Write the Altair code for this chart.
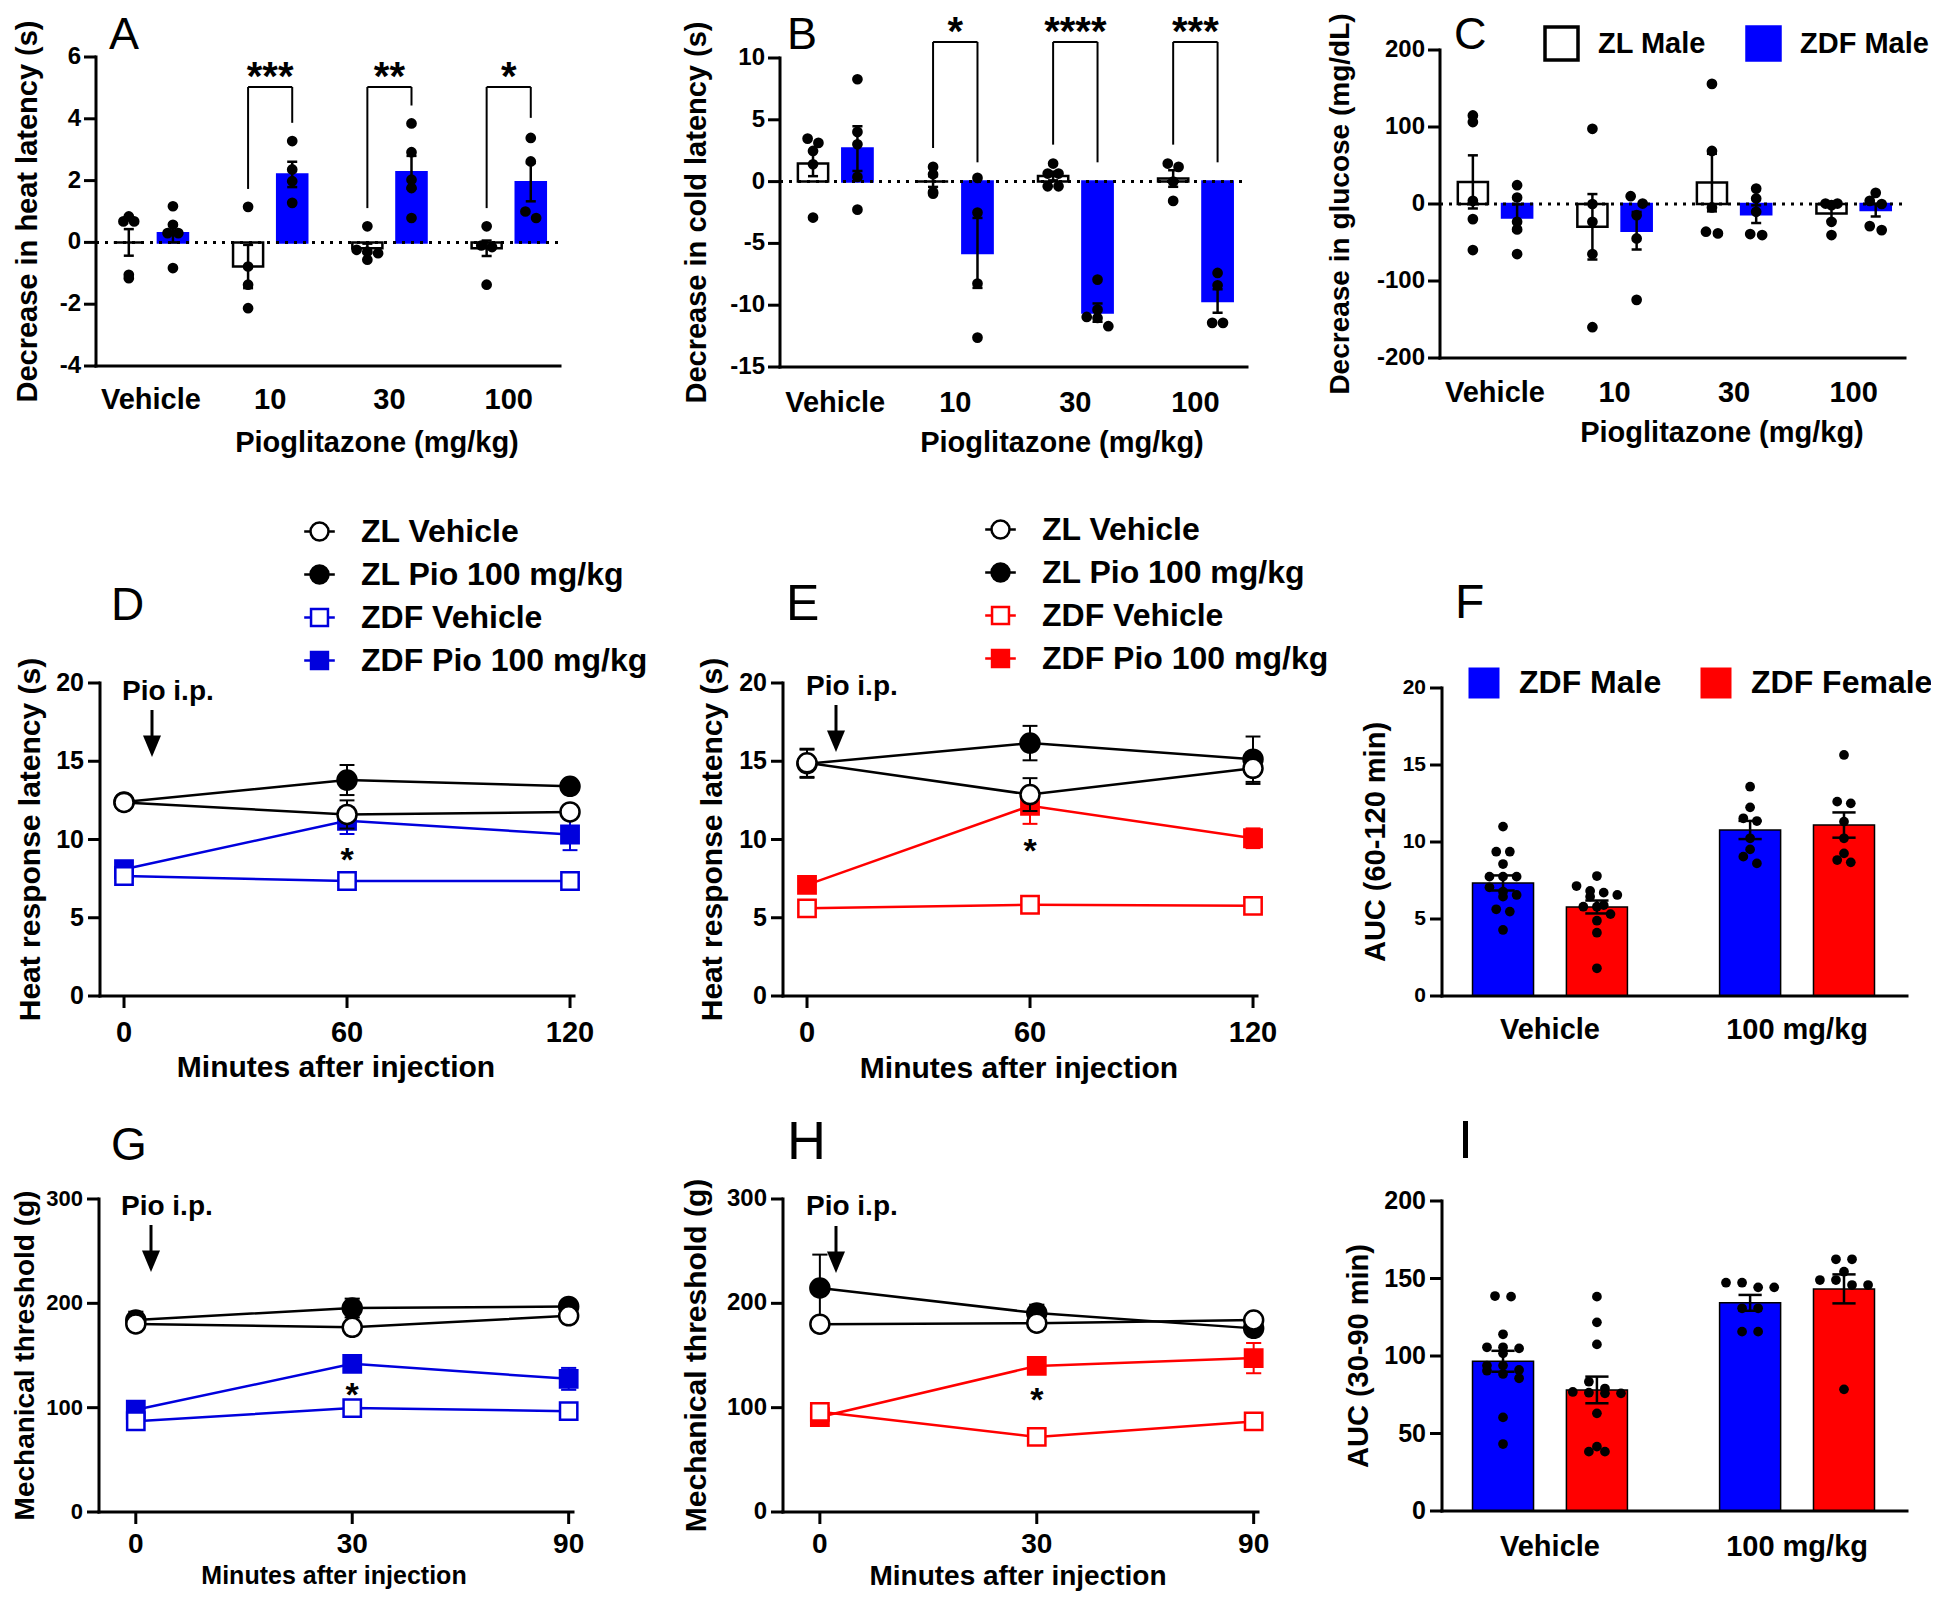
import altair as alt
import pandas as pd

FONT = "Liberation Sans"
BLUE = "#0000ff"
LBLUE = "#0000dd"
RED = "#ff0000"
WIDTH, HEIGHT = 1923, 1585

# ======================= DATA =======================
# --- A: decrease in heat latency (s)
doses = ["Vehicle", "10", "30", "100"]
strains = ["ZL Male", "ZDF Male"]
heat_zl_mean = [0.00, -0.78, -0.19, -0.19]
heat_zl_sem = [0.43, 0.70, 0.15, 0.25]
heat_zdf_mean = [0.30, 2.20, 2.27, 1.95]
heat_zdf_sem = [0.30, 0.41, 0.53, 0.62]
heat_zl_pts = [[0.84, 0.68, 0.68, -1.16, -1.05], [1.15, -0.78, -1.37, -2.13],
               [0.52, -0.56, -0.24, -0.35, -0.30], [0.52, -0.10, -0.15, -1.37]]
heat_zdf_pts = [[1.17, 0.30, 0.57, -0.83, 0.30], [3.28, 2.36, 1.98, 1.28],
                [3.85, 2.92, 2.03, 1.76, 0.79], [3.38, 2.62, 0.79, 1.00]]
heat_sig_dose = ["10", "30", "100"]
heat_sig_left = [1.73, 1.11, 1.11]
heat_sig_right = [3.87, 4.43, 4.03]
heat_sig_top = [5.03, 5.03, 5.03]
heat_sig_star_y = [5.68, 5.68, 5.68]
heat_sig_labels = ["***", "**", "*"]
heat_yticks = [-4, -2, 0, 2, 4, 6]

# --- B: decrease in cold latency (s)
cold_zl_mean = [1.46, 0.00, 0.45, 0.25]
cold_zl_sem = [1.02, 0.43, 0.35, 0.67]
cold_zdf_mean = [2.67, -5.77, -10.60, -9.66]
cold_zdf_sem = [1.81, 2.83, 0.74, 0.95]
cold_zl_pts = [[3.48, 3.13, 2.48, 1.40, -2.91], [1.19, 0.59, -0.97, -0.84],
               [1.46, 0.65, 0.65, -0.38, -0.38], [1.19, 1.46, 0.00, -1.56]]
cold_zdf_pts = [[8.28, 4.02, 3.02, 0.38, -2.27], [0.30, -2.51, -8.25, -12.62],
                [-7.93, -10.95, -10.36, -11.70, -11.03], [-7.39, -8.39, -11.43, -11.43]]
cold_sig_dose = ["10", "30", "100"]
cold_sig_left = [2.72, 2.99, 2.99]
cold_sig_right = [1.56, 1.56, 1.56]
cold_sig_top = [11.3, 11.3, 11.3]
cold_sig_star_y = [12.9, 12.9, 12.9]
cold_sig_labels = ["*", "****", "***"]
cold_yticks = [-15, -10, -5, 0, 5, 10]

# --- C: decrease in glucose (mg/dL)
glu_zl_mean = [28.7, -29.6, 27.8, -12.3]
glu_zl_sem = [34.5, 42.5, 37.4, 9.7]
glu_zdf_mean = [-17.5, -34.7, -13.2, -7.9]
glu_zdf_sem = [17.0, 24.4, 11.5, 8.3]
glu_zl_pts = [[115.0, 106.4, 4.1, -19.6, -59.8], [97.7, 0.0, -23.1, -65.0, -160.0],
              [156.0, 68.9, -4.5, -38.2, -36.0], [0.6, 0.6, -1.5, -23.1, -40.3]]
glu_zdf_pts = [[24.4, 8.4, -23.1, -33.0, -65.0], [10.1, 0.6, -14.5, -44.7, -124.5],
               [20.0, 7.1, -10.1, -40.3, -39.0], [14.5, 4.1, 0.0, -33.9, -28.7]]
glu_yticks = [-200, -100, 0, 100, 200]

# --- D / E: heat response latency (s) time course
line_series = ["ZL Vehicle", "ZL Pio 100 mg/kg", "ZDF Vehicle", "ZDF Pio 100 mg/kg"]
heat_minutes = [0, 60, 120]
heat_latency_yticks = [0, 5, 10, 15, 20]
D_zl_veh = [12.37, 11.60, 11.76]
D_zl_veh_err = [0.35, 0.90, 0.30]
D_zl_pio = [12.40, 13.80, 13.40]
D_zl_pio_err = [0.30, 0.96, 0.30]
D_zdf_veh = [7.67, 7.35, 7.35]
D_zdf_veh_err = [0.30, 0.20, 0.20]
D_zdf_pio = [8.10, 11.20, 10.32]
D_zdf_pio_err = [0.30, 0.85, 1.00]
D_star_time = [60]
D_star_y = [9.2]

E_zl_veh = [14.90, 12.87, 14.55]
E_zl_veh_err = [0.90, 1.05, 1.00]
E_zl_pio = [14.84, 16.16, 15.13]
E_zl_pio_err = [0.90, 1.10, 1.45]
E_zdf_veh = [5.60, 5.83, 5.76]
E_zdf_veh_err = [0.20, 0.20, 0.20]
E_zdf_pio = [7.10, 12.15, 10.08]
E_zdf_pio_err = [0.20, 1.15, 0.63]
E_star_time = [60]
E_star_y = [9.78]

# --- F: AUC (60-120 min)
auc_groups = ["Vehicle", "100 mg/kg"]
auc_sexes = ["ZDF Male", "ZDF Female"]
F_yticks = [0, 5, 10, 15, 20]
F_male_mean = [7.34, 10.78]
F_male_sem = [0.49, 0.59]
F_female_mean = [5.78, 11.10]
F_female_sem = [0.42, 0.82]
F_male_pts = [[11.0, 9.37, 9.37, 8.57, 7.75, 7.75, 7.75, 7.06, 6.77, 6.56, 6.45, 5.63, 5.48, 4.29],
              [13.59, 12.25, 11.54, 11.36, 10.24, 9.52, 9.05, 8.61]]
F_female_pts = [[7.79, 7.14, 6.82, 6.71, 6.56, 6.45, 5.90, 5.80, 5.80, 5.32, 4.89, 4.11, 1.80],
                [15.65, 12.62, 12.51, 11.32, 10.24, 9.26, 8.83, 8.68]]

# --- G / H: mechanical threshold (g)
mech_minutes = ["0", "30", "90"]
mech_yticks = [0, 100, 200, 300]
G_zl_veh = [180.3, 177.0, 188.0]
G_zl_veh_err = [3.0, 3.0, 6.0]
G_zl_pio = [184.0, 195.5, 197.0]
G_zl_pio_err = [8.0, 9.0, 3.0]
G_zdf_veh = [87.0, 99.6, 96.6]
G_zdf_veh_err = [3.0, 4.0, 3.0]
G_zdf_pio = [98.0, 142.0, 127.6]
G_zdf_pio_err = [3.0, 4.0, 10.5]
G_star_time = ["30"]
G_star_y = [120.0]

H_zl_veh = [180.0, 181.0, 184.0]
H_zl_veh_err = [3.0, 3.0, 3.0]
H_zl_pio = [214.7, 190.7, 176.0]
H_zl_pio_err = [32.0, 8.0, 4.0]
H_zdf_veh = [96.0, 72.0, 86.8]
H_zdf_veh_err = [3.0, 3.0, 4.0]
H_zdf_pio = [91.0, 140.0, 147.5]
H_zdf_pio_err = [3.0, 5.0, 14.5]
H_star_time = ["30"]
H_star_y = [115.0]

# --- I: AUC (30-90 min)
I_yticks = [0, 50, 100, 150, 200]
I_male_mean = [96.6, 134.3]
I_male_sem = [6.75, 5.1]
I_female_mean = [78.1, 143.3]
I_female_sem = [8.6, 9.35]
I_male_pts = [[138.3, 138.7, 114.0, 105.6, 104.9, 105.6, 101.7, 93.8, 93.8, 91.0, 90.5, 88.4, 85.6, 60.4, 43.2],
              [147.3, 147.3, 144.3, 144.3, 130.8, 130.8, 115.7, 115.7]]
I_female_pts = [[138.3, 121.7, 107.5, 83.4, 79.0, 76.8, 76.3, 75.9, 75.9, 63.0, 41.5, 38.3, 38.3],
                [162.4, 162.4, 154.4, 149.0, 149.0, 145.8, 145.8, 78.5]]

# ======================= LAYOUT (plot boxes: left, top, right, bottom) =======================
BOX_A = (88, 49, 552, 358)
BOX_B = (772, 50, 1239, 359)
BOX_C = (1432, 42, 1897, 350)
BOX_D = (92, 675, 566, 988)
BOX_E = (775, 675, 1249, 988)
BOX_F = (1434, 680, 1899, 988)
BOX_G = (91, 1191, 565, 1504)
BOX_H = (775, 1191, 1250, 1504)
BOX_I = (1434, 1193, 1899, 1503)


def one_row():
    return pd.DataFrame({"k": [0]})


def text_at(txt, x, y, size, weight="bold", align="left", baseline="alphabetic", angle=0):
    kw = dict(font=FONT, fontSize=size, fontWeight=weight, align=align, baseline=baseline,
              color="black")
    if angle:
        kw["angle"] = angle
    return alt.Chart(pd.DataFrame({"t": [txt]})).mark_text(**kw).encode(
        x=alt.value(x), y=alt.value(y), text="t:N")


def axes_layers(box, xs, ys, xdom, ydom, ax):
    """Axis lines, ticks, tick labels and titles drawn through the panel's scales."""
    L, T, R, B = box
    out = []
    one = one_row()
    out.append(alt.Chart(one).mark_rule(color="black", strokeWidth=3, strokeCap="square").encode(
        x=alt.XDatum(xdom[0], scale=xs, axis=None),
        y=alt.YDatum(ydom[0], scale=ys, axis=None), y2=alt.Y2Datum(ydom[1])))
    out.append(alt.Chart(one).mark_rule(color="black", strokeWidth=3, strokeCap="square").encode(
        x=alt.XDatum(xdom[0], scale=xs, axis=None), x2=alt.X2Datum(xdom[1]),
        y=alt.YDatum(ydom[0], scale=ys, axis=None)))
    ydf = pd.DataFrame({"v": ax["yvals"], "lab": [str(v) for v in ax["yvals"]]})
    ytick = ax.get("ytick", 12)
    out.append(alt.Chart(ydf).mark_rule(color="black", strokeWidth=3).encode(
        x=alt.value(L - ytick), x2=alt.value(L), y=alt.Y("v:Q", scale=ys, axis=None)))
    out.append(alt.Chart(ydf).mark_text(font=FONT, fontSize=ax["ylab_fs"], fontWeight="bold",
                                        align="right", baseline="middle", color="black").encode(
        x=alt.value(L - ytick - ax.get("ypad", 4)), y=alt.Y("v:Q", scale=ys, axis=None), text="lab:N"))
    xdf = pd.DataFrame({"v": ax["xvals"], "lab": ax["xlabels"]})
    xtick = ax.get("xtick", 0)
    if xtick > 0:
        out.append(alt.Chart(xdf).mark_rule(color="black", strokeWidth=3).encode(
            x=alt.X("v:Q", scale=xs, axis=None), y=alt.value(B), y2=alt.value(B + xtick)))
    out.append(alt.Chart(xdf).mark_text(font=FONT, fontSize=ax["xlab_fs"], fontWeight="bold",
                                        align="center", baseline="middle", color="black").encode(
        x=alt.X("v:Q", scale=xs, axis=None), y=alt.value(B + ax["xlab_off"]), text="lab:N"))
    out.append(text_at(ax["ytitle"], ax["ytitle_cx"], (T + B) / 2, ax["ytitle_fs"],
                       align="center", baseline="middle", angle=270))
    if ax.get("xtitle"):
        out.append(text_at(ax["xtitle"], ax["xtitle_cx"], ax["xtitle_cy"], ax["xtitle_fs"],
                           align="center", baseline="middle"))
    return out


ARROW_HEAD = "M-1,-1.2L1,-1.2L0,1.2Z"


def arrow(x, y0, y1):
    shaft = alt.Chart(one_row()).mark_rule(color="black", strokeWidth=3).encode(
        x=alt.value(x), y=alt.value(y0), y2=alt.value(y1 - 14))
    head = alt.Chart(one_row()).mark_point(
        shape=ARROW_HEAD, filled=True, color="black", size=324, opacity=1).encode(
        x=alt.value(x), y=alt.value(y1 - 10.8))
    return [shaft, head]


def bar_panel(box, cats, groups, means, sems, pts, *, xdom, ydom, off, hw, cap, binw, dx,
              dot, fills, strokes, bar_sw, ax, legend=None, zero=False, sig=None):
    L, T, R, B = box
    xs = alt.Scale(domain=list(xdom), range=[L, R], nice=False, zero=False)
    ys = alt.Scale(domain=list(ydom), range=[B, T], nice=False, zero=False)
    rows = []
    for g, ml, el in zip(groups, means, sems):
        for i, c in enumerate(cats):
            rows.append({"cat": c, "idx": i, "grp": g, "m": ml[i], "e": el[i]})
    bdf = pd.DataFrame(rows)
    prow = []
    for g, pl in zip(groups, pts):
        for i, c in enumerate(cats):
            for v in pl[i]:
                prow.append({"cat": c, "idx": i, "grp": g, "v": v})
    pdf = pd.DataFrame(prow)
    xc = f"datum.idx + (datum.grp == '{groups[0]}' ? {-off} : {off})"
    base = alt.Chart(bdf).transform_calculate(xc=xc).transform_calculate(
        xl=f"datum.xc - {hw}", xr=f"datum.xc + {hw}", cl=f"datum.xc - {cap}",
        cr=f"datum.xc + {cap}", lo="datum.m - datum.e", hi="datum.m + datum.e")
    fill_enc = alt.Fill("grp:N", scale=alt.Scale(domain=groups, range=fills), legend=legend)
    stroke_enc = alt.Stroke("grp:N", scale=alt.Scale(domain=groups, range=strokes), legend=legend)
    layers = []
    layers.append(base.mark_bar(strokeWidth=bar_sw, opacity=1).encode(
        x=alt.X("xl:Q", scale=xs, axis=None), x2="xr:Q",
        y=alt.Y("m:Q", scale=ys, axis=None), y2=alt.datum(0),
        fill=fill_enc, stroke=stroke_enc))
    layers += axes_layers(box, xs, ys, xdom, ydom, ax)
    if zero:
        layers.append(alt.Chart(pd.DataFrame({"z": [0]})).mark_rule(
            color="black", strokeWidth=3, strokeDash=[3, 6]).encode(
            x=alt.XDatum(xdom[0], scale=xs, axis=None), x2=alt.X2Datum(xdom[1]),
            y=alt.Y("z:Q", scale=ys, axis=None)))
    layers.append(base.mark_rule(color="black", strokeWidth=2.5).encode(
        x=alt.X("xc:Q", scale=xs, axis=None), y=alt.Y("lo:Q", scale=ys, axis=None), y2="hi:Q"))
    for end in ("lo", "hi"):
        layers.append(base.mark_rule(color="black", strokeWidth=2.5).encode(
            x=alt.X("cl:Q", scale=xs, axis=None), x2="cr:Q",
            y=alt.Y(f"{end}:Q", scale=ys, axis=None)))
    layers.append(alt.Chart(pdf).transform_calculate(
        xc=xc, b=f"floor(datum.v / {binw})").transform_window(
        rk="row_number()", groupby=["idx", "grp", "b"],
        sort=[alt.SortField("v", order="descending")]).transform_joinaggregate(
        n="count()", groupby=["idx", "grp", "b"]).transform_calculate(
        xp=f"datum.xc + (datum.rk - 1 - (datum.n - 1) / 2) * {dx}").mark_circle(
        size=dot, color="black", opacity=1).encode(
        x=alt.X("xp:Q", scale=xs, axis=None), y=alt.Y("v:Q", scale=ys, axis=None)))
    if sig is not None:
        sdose, sl, sr, st, sy, slab = sig
        sdf = pd.DataFrame({"idx": [cats.index(d) for d in sdose], "yl": sl, "yr": sr,
                            "yt": st, "ys": sy, "lab": slab})
        sb = alt.Chart(sdf).transform_calculate(
            xl=f"datum.idx - {off}", xr=f"datum.idx + {off}")
        layers.append(sb.mark_rule(color="black", strokeWidth=2).encode(
            x=alt.X("xl:Q", scale=xs, axis=None), y=alt.Y("yl:Q", scale=ys, axis=None), y2="yt:Q"))
        layers.append(sb.mark_rule(color="black", strokeWidth=2).encode(
            x=alt.X("xr:Q", scale=xs, axis=None), y=alt.Y("yr:Q", scale=ys, axis=None), y2="yt:Q"))
        layers.append(sb.mark_rule(color="black", strokeWidth=2).encode(
            x=alt.X("xl:Q", scale=xs, axis=None), x2="xr:Q", y=alt.Y("yt:Q", scale=ys, axis=None)))
        layers.append(sb.mark_text(font=FONT, fontSize=40, fontWeight="bold", baseline="alphabetic",
                                   dy=23, color="black").encode(
            x=alt.X("idx:Q", scale=xs, axis=None), y=alt.Y("ys:Q", scale=ys, axis=None), text="lab:N"))
    return layers


LEG_CIRCLE = "M-0.85,0L-0.5,0M0.5,0L0.85,0M0.5,0A0.5,0.5,0,1,1,-0.5,0A0.5,0.5,0,1,1,0.5,0Z"
LEG_SQUARE = "M-0.85,0L-0.47,0M0.47,0L0.85,0M-0.47,-0.47L0.47,-0.47L0.47,0.47L-0.47,0.47Z"


def line_panel(box, xvals, series, *, xdom, ydom, cap, styles, ax, star, legend_xy=None):
    L, T, R, B = box
    xs = alt.Scale(domain=list(xdom), range=[L, R], nice=False, zero=False)
    ys = alt.Scale(domain=list(ydom), range=[B, T], nice=False, zero=False)
    layers = axes_layers(box, xs, ys, xdom, ydom, ax)
    for si in (3, 2, 1, 0):
        means, errs = series[si]
        shape, fill, stroke, size = styles[si]
        df = pd.DataFrame({"t": xvals, "m": means, "e": errs})
        base = alt.Chart(df).transform_calculate(
            lo="datum.m - datum.e", hi="datum.m + datum.e",
            cl=f"datum.t - {cap}", cr=f"datum.t + {cap}")
        layers.append(base.mark_line(color=stroke, strokeWidth=2.5).encode(
            x=alt.X("t:Q", scale=xs, axis=None), y=alt.Y("m:Q", scale=ys, axis=None)))
        layers.append(base.mark_rule(color=stroke, strokeWidth=2).encode(
            x=alt.X("t:Q", scale=xs, axis=None), y=alt.Y("lo:Q", scale=ys, axis=None), y2="hi:Q"))
        for end in ("lo", "hi"):
            layers.append(base.mark_rule(color=stroke, strokeWidth=2).encode(
                x=alt.X("cl:Q", scale=xs, axis=None), x2="cr:Q",
                y=alt.Y(f"{end}:Q", scale=ys, axis=None)))
        layers.append(base.mark_point(shape=shape, filled=True, fill=fill, stroke=stroke,
                                      strokeWidth=2.5, size=size, opacity=1).encode(
            x=alt.X("t:Q", scale=xs, axis=None), y=alt.Y("m:Q", scale=ys, axis=None)))
    st, sy = star
    layers.append(alt.Chart(pd.DataFrame({"t": st, "v": sy, "s": ["*"] * len(st)})).mark_text(
        font=FONT, fontSize=34, fontWeight="bold", baseline="alphabetic", dy=19, color="black").encode(
        x=alt.X("t:Q", scale=xs, axis=None), y=alt.Y("v:Q", scale=ys, axis=None), text="s:N"))
    if legend_xy is not None:
        lx, ly = legend_xy
        leg = alt.Legend(orient="none", legendX=lx, legendY=ly, title=None, labelFont=FONT,
                         labelFontSize=32, labelFontWeight="bold", labelColor="black",
                         labelLimit=600, symbolSize=1296, symbolStrokeWidth=2.5, rowPadding=7,
                         labelOffset=22, padding=0, symbolOpacity=1)
        paths = [LEG_CIRCLE, LEG_CIRCLE, LEG_SQUARE, LEG_SQUARE]
        fills = [s[1] for s in styles]
        strokes = [s[2] for s in styles]
        layers.append(alt.Chart(pd.DataFrame({"series": line_series})).transform_filter(
            "false").mark_point(filled=True, opacity=1).encode(
            shape=alt.Shape("series:N", scale=alt.Scale(domain=line_series, range=paths), legend=leg),
            fill=alt.Fill("series:N", scale=alt.Scale(domain=line_series, range=fills), legend=leg),
            stroke=alt.Stroke("series:N", scale=alt.Scale(domain=line_series, range=strokes), legend=leg)))
    return layers


# ======================= PANELS =======================
ABC_XDOM = (-0.46, 3.43)
dose_idx = list(range(len(doses)))

panel_A = alt.layer(*bar_panel(
    BOX_A, doses, strains, [heat_zl_mean, heat_zdf_mean], [heat_zl_sem, heat_zdf_sem],
    [heat_zl_pts, heat_zdf_pts], xdom=ABC_XDOM, ydom=(-4, 6), off=0.185, hw=0.126, cap=0.042,
    binw=0.36, dx=0.09, dot=115, fills=["white", BLUE], strokes=["black", BLUE], bar_sw=2.5,
    ax=dict(yvals=heat_yticks, ylab_fs=24, ypad=3, xvals=dose_idx, xlabels=doses, xlab_fs=29,
            xlab_off=34, ytitle="Decrease in heat latency (s)", ytitle_cx=20, ytitle_fs=29,
            xtitle="Pioglitazone (mg/kg)", xtitle_cx=369, xtitle_cy=435, xtitle_fs=29),
    zero=True,
    sig=(heat_sig_dose, heat_sig_left, heat_sig_right, heat_sig_top, heat_sig_star_y, heat_sig_labels)),
    text_at("A", 101, 41, 45, "normal"))

panel_B = alt.layer(*bar_panel(
    BOX_B, doses, strains, [cold_zl_mean, cold_zdf_mean], [cold_zl_sem, cold_zdf_sem],
    [cold_zl_pts, cold_zdf_pts], xdom=ABC_XDOM, ydom=(-15, 10), off=0.185, hw=0.126, cap=0.042,
    binw=0.9, dx=0.09, dot=115, fills=["white", BLUE], strokes=["black", BLUE], bar_sw=2.5,
    ax=dict(yvals=cold_yticks, ylab_fs=24, ypad=3, xvals=dose_idx, xlabels=doses, xlab_fs=29,
            xlab_off=36, ytitle="Decrease in cold latency (s)", ytitle_cx=689, ytitle_fs=29,
            xtitle="Pioglitazone (mg/kg)", xtitle_cx=1054, xtitle_cy=435, xtitle_fs=29),
    zero=True,
    sig=(cold_sig_dose, cold_sig_left, cold_sig_right, cold_sig_top, cold_sig_star_y, cold_sig_labels)),
    text_at("B", 779, 41, 45, "normal"))

legend_C = alt.Legend(orient="none", legendX=1535, legendY=17, direction="horizontal", title=None,
                      symbolType="square", symbolSize=1089, symbolStrokeWidth=3.5, labelFont=FONT,
                      labelFontSize=29, labelFontWeight="bold", labelColor="black", labelOffset=18,
                      labelLimit=600, columnPadding=34, padding=0)
panel_C = alt.layer(*bar_panel(
    BOX_C, doses, strains, [glu_zl_mean, glu_zdf_mean], [glu_zl_sem, glu_zdf_sem],
    [glu_zl_pts, glu_zdf_pts], xdom=ABC_XDOM, ydom=(-200, 200), off=0.185, hw=0.126, cap=0.042,
    binw=14, dx=0.10, dot=115, fills=["white", BLUE], strokes=["black", BLUE], bar_sw=2.5,
    ax=dict(yvals=glu_yticks, ylab_fs=24, ypad=3, xvals=dose_idx, xlabels=doses, xlab_fs=29,
            xlab_off=35, ytitle="Decrease in glucose (mg/dL)", ytitle_cx=1333, ytitle_fs=28,
            xtitle="Pioglitazone (mg/kg)", xtitle_cx=1714, xtitle_cy=425, xtitle_fs=29),
    zero=True, legend=legend_C),
    text_at("C", 1446, 41, 45, "normal"))

blue_styles = [("circle", "white", "black", 361), ("circle", "black", "black", 361),
               ("square", "white", LBLUE, 300), ("square", LBLUE, LBLUE, 300)]
red_styles = [("circle", "white", "black", 361), ("circle", "black", "black", 361),
              ("square", "white", RED, 300), ("square", RED, RED, 300)]
DE_XDOM = (-6.46, 121.07)
GH_XDOM = (-0.17, 2.02)
mech_idx = list(range(len(mech_minutes)))

panel_D = alt.layer(*line_panel(
    BOX_D, heat_minutes,
    [(D_zl_veh, D_zl_veh_err), (D_zl_pio, D_zl_pio_err), (D_zdf_veh, D_zdf_veh_err), (D_zdf_pio, D_zdf_pio_err)],
    xdom=DE_XDOM, ydom=(0, 20), cap=2.0, styles=blue_styles,
    ax=dict(yvals=heat_latency_yticks, ylab_fs=25, xvals=heat_minutes,
            xlabels=[str(m) for m in heat_minutes], xlab_fs=29, xlab_off=37, xtick=12,
            ytitle="Heat response latency (s)", ytitle_cx=23, ytitle_fs=30,
            xtitle="Minutes after injection", xtitle_cx=328, xtitle_cy=1060, xtitle_fs=30),
    star=(D_star_time, D_star_y), legend_xy=(292, 504)),
    text_at("D", 103, 612, 46, "normal"), text_at("Pio i.p.", 114, 692, 28), *arrow(144, 702, 749))

panel_E = alt.layer(*line_panel(
    BOX_E, heat_minutes,
    [(E_zl_veh, E_zl_veh_err), (E_zl_pio, E_zl_pio_err), (E_zdf_veh, E_zdf_veh_err), (E_zdf_pio, E_zdf_pio_err)],
    xdom=DE_XDOM, ydom=(0, 20), cap=2.0, styles=red_styles,
    ax=dict(yvals=heat_latency_yticks, ylab_fs=25, xvals=heat_minutes,
            xlabels=[str(m) for m in heat_minutes], xlab_fs=29, xlab_off=37, xtick=12,
            ytitle="Heat response latency (s)", ytitle_cx=705, ytitle_fs=30,
            xtitle="Minutes after injection", xtitle_cx=1011, xtitle_cy=1061, xtitle_fs=30),
    star=(E_star_time, E_star_y), legend_xy=(973, 502)),
    text_at("E", 778, 612, 50, "normal"), text_at("Pio i.p.", 798, 687, 28), *arrow(828, 697, 744))

legend_F = alt.Legend(orient="none", legendX=1460, legendY=659, direction="horizontal", title=None,
                      symbolType="square", symbolSize=961, symbolStrokeWidth=0, labelFont=FONT,
                      labelFontSize=32, labelFontWeight="bold", labelColor="black", labelOffset=19,
                      labelLimit=600, columnPadding=38, padding=0)
FI_XDOM = (-0.437, 1.445)
auc_idx = list(range(len(auc_groups)))
panel_F = alt.layer(*bar_panel(
    BOX_F, auc_groups, auc_sexes, [F_male_mean, F_female_mean], [F_male_sem, F_female_sem],
    [F_male_pts, F_female_pts], xdom=FI_XDOM, ydom=(0, 20), off=0.19, hw=0.1235, cap=0.047,
    binw=0.65, dx=0.055, dot=95, fills=[BLUE, RED], strokes=["black", "black"], bar_sw=1.5,
    ax=dict(yvals=F_yticks, ylab_fs=21, xvals=auc_idx, xlabels=auc_groups, xlab_fs=29, xlab_off=34,
            ytitle="AUC (60-120 min)", ytitle_cx=1368, ytitle_fs=29),
    legend=legend_F),
    text_at("F", 1447, 610, 48, "normal"))

panel_G = alt.layer(*line_panel(
    BOX_G, mech_idx,
    [(G_zl_veh, G_zl_veh_err), (G_zl_pio, G_zl_pio_err), (G_zdf_veh, G_zdf_veh_err), (G_zdf_pio, G_zdf_pio_err)],
    xdom=GH_XDOM, ydom=(0, 300), cap=0.035, styles=blue_styles,
    ax=dict(yvals=mech_yticks, ylab_fs=22, xvals=mech_idx, xlabels=mech_minutes, xlab_fs=28,
            xlab_off=33, xtick=12, ytitle="Mechanical threshold (g)", ytitle_cx=18, ytitle_fs=28,
            xtitle="Minutes after injection", xtitle_cx=326, xtitle_cy=1568, xtitle_fs=25),
    star=([mech_minutes.index(t) for t in G_star_time], G_star_y)),
    text_at("G", 103, 1152, 46, "normal"), text_at("Pio i.p.", 113, 1207, 28), *arrow(143, 1217, 1264))

panel_H = alt.layer(*line_panel(
    BOX_H, mech_idx,
    [(H_zl_veh, H_zl_veh_err), (H_zl_pio, H_zl_pio_err), (H_zdf_veh, H_zdf_veh_err), (H_zdf_pio, H_zdf_pio_err)],
    xdom=GH_XDOM, ydom=(0, 300), cap=0.035, styles=red_styles,
    ax=dict(yvals=mech_yticks, ylab_fs=24, xvals=mech_idx, xlabels=mech_minutes, xlab_fs=28,
            xlab_off=33, xtick=12, ytitle="Mechanical threshold (g)", ytitle_cx=689, ytitle_fs=30,
            xtitle="Minutes after injection", xtitle_cx=1010, xtitle_cy=1569, xtitle_fs=28),
    star=([mech_minutes.index(t) for t in H_star_time], H_star_y)),
    text_at("H", 779, 1151, 54, "normal"), text_at("Pio i.p.", 798, 1207, 28), *arrow(828, 1218, 1265))

panel_I = alt.layer(*bar_panel(
    BOX_I, auc_groups, auc_sexes, [I_male_mean, I_female_mean], [I_male_sem, I_female_sem],
    [I_male_pts, I_female_pts], xdom=FI_XDOM, ydom=(0, 200), off=0.19, hw=0.1235, cap=0.047,
    binw=6.5, dx=0.065, dot=95, fills=[BLUE, RED], strokes=["black", "black"], bar_sw=1.5,
    ax=dict(yvals=I_yticks, ylab_fs=25, xvals=auc_idx, xlabels=auc_groups, xlab_fs=29, xlab_off=36,
            ytitle="AUC (30-90 min)", ytitle_cx=1351, ytitle_fs=29)),
    text_at("I", 1450, 1150, 54, "normal"))

chart = alt.layer(panel_A, panel_B, panel_C, panel_D, panel_E, panel_F, panel_G, panel_H, panel_I).resolve_scale(
    x="independent", y="independent", fill="independent", stroke="independent", shape="independent"
).resolve_legend(
    fill="independent", stroke="independent", shape="independent"
).properties(
    width=WIDTH, height=HEIGHT, padding=0, background="white",
    autosize=alt.AutoSizeParams(type="none")
).configure_view(stroke=None)

chart.save("out.html", embed_options={"renderer": "svg", "actions": False})
